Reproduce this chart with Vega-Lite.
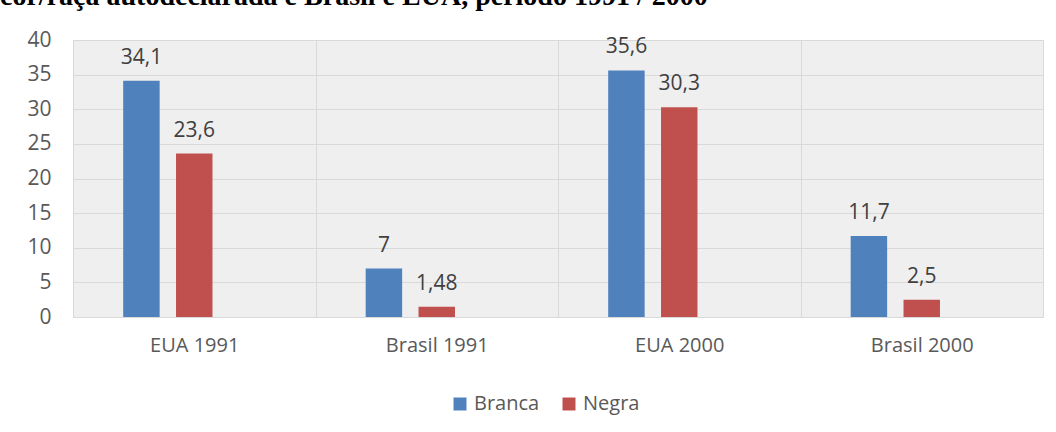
{
  "$schema": "https://vega.github.io/schema/vega-lite/v6.json",
  "width": 970,
  "height": 277,
  "autosize": {"type": "none"},
  "padding": {"left": 73, "top": 40, "right": 13, "bottom": 115},
  "background": "white",
  "config": {
    "font": "Open Sans",
    "view": {"stroke": "#d9d9d9", "fill": "#efefef"},
    "locale": {"number": {"decimal": ",", "thousands": ".", "grouping": [3], "currency": ["R$", ""]}}
  },
  "title": {
    "text": "cor/raça autodeclarada e Brasil e EUA, período 1991 / 2000",
    "anchor": "start",
    "frame": "group",
    "dx": -73,
    "dy": 25,
    "font": "Liberation Serif",
    "fontSize": 28,
    "fontWeight": "bold",
    "color": "#000000",
    "baseline": "alphabetic",
    "offset": 21
  },
  "data": {
    "values": [
      {"grupo": "EUA 1991", "cor": "Branca", "valor": 34.1},
      {"grupo": "EUA 1991", "cor": "Negra", "valor": 23.6},
      {"grupo": "Brasil 1991", "cor": "Branca", "valor": 7},
      {"grupo": "Brasil 1991", "cor": "Negra", "valor": 1.48},
      {"grupo": "EUA 2000", "cor": "Branca", "valor": 35.6},
      {"grupo": "EUA 2000", "cor": "Negra", "valor": 30.3},
      {"grupo": "Brasil 2000", "cor": "Branca", "valor": 11.7},
      {"grupo": "Brasil 2000", "cor": "Negra", "valor": 2.5}
    ]
  },
  "encoding": {
    "x": {
      "field": "grupo",
      "type": "nominal",
      "sort": ["EUA 1991", "Brasil 1991", "EUA 2000", "Brasil 2000"],
      "scale": {"paddingInner": 0, "paddingOuter": 0},
      "axis": {
        "title": null,
        "labelAngle": 0,
        "domain": false,
        "ticks": false,
        "grid": true,
        "tickBand": "extent",
        "gridColor": "#d9d9d9",
        "labelFontSize": 20,
        "labelColor": "#595959",
        "labelPadding": 18
      }
    },
    "xOffset": {
      "field": "cor",
      "type": "nominal",
      "scale": {"domain": ["Branca", "Negra", "-"], "paddingInner": 0.31, "paddingOuter": 0.95}
    },
    "y": {
      "field": "valor",
      "type": "quantitative",
      "scale": {"domain": [0, 40], "nice": false},
      "axis": {
        "title": null,
        "values": [0, 5, 10, 15, 20, 25, 30, 35, 40],
        "domain": false,
        "ticks": false,
        "grid": true,
        "gridColor": "#d9d9d9",
        "labelFontSize": 21,
        "labelColor": "#595959",
        "labelPadding": 22
      }
    }
  },
  "layer": [
    {
      "mark": {"type": "bar"},
      "encoding": {
        "color": {
          "field": "cor",
          "type": "nominal",
          "scale": {"domain": ["Branca", "Negra"], "range": ["#4f81bd", "#c0504d"]},
          "legend": {
            "orient": "none",
            "legendX": 377,
            "legendY": 354,
            "direction": "horizontal",
            "title": null,
            "symbolType": "square",
            "symbolSize": 169,
            "symbolStrokeWidth": 0,
            "labelFontSize": 20,
            "labelColor": "#595959",
            "labelOffset": 4,
            "columnPadding": 19
          }
        }
      }
    },
    {
      "mark": {"type": "text", "dy": -17, "baseline": "alphabetic", "fontSize": 21, "color": "#404040"},
      "encoding": {"text": {"field": "valor", "type": "quantitative", "format": "~g"}}
    }
  ]
}
